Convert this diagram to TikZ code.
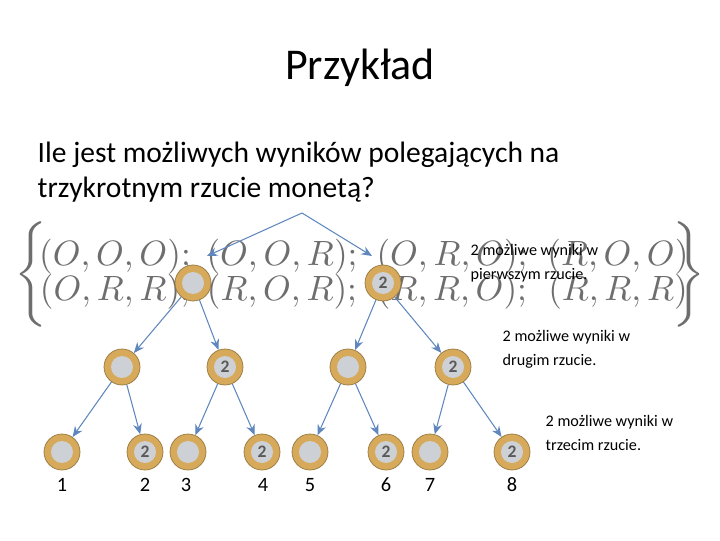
\documentclass[tikz,border=0pt]{standalone}
\usepackage{fontspec}
\setmainfont{Carlito}
\usetikzlibrary{arrows.meta}
\definecolor{coingold}{RGB}{214,170,90}
\definecolor{coinsilver}{RGB}{205,208,212}
\definecolor{arrowblue}{RGB}{95,135,190}
\definecolor{setgray}{RGB}{110,110,110}
\tikzset{
 coin/.style={circle,minimum size=0.36cm,inner sep=0pt,fill=coingold,draw=coingold!70!black,line width=0.2pt,
  path picture={\fill[coinsilver] (path picture bounding box.center) circle (0.11cm);}},
 coinO/.style={coin},
 coinR/.style={coin,font=\fontsize{5}{5}\selectfont\bfseries,text=gray!70!black},
 branch/.style={arrowblue,line width=0.3pt,-{Stealth[length=3pt,width=2.5pt]}},
 note/.style={anchor=north west,align=left,font=\fontsize{4.6}{6.8}\selectfont,inner sep=0pt},
 leaf/.style={font=\fontsize{5.8}{6}\selectfont},
 entry/.style={text=setgray,font=\fontsize{10}{10}\selectfont}
}
\begin{document}
\begin{tikzpicture}
 \useasboundingbox (0,0) rectangle (7.2,5.4);
 % title and question
 \node[font=\fontsize{12.5}{14}\selectfont] (title) at (3.6,4.72) {Przykład};
 \node[anchor=west,align=left,inner sep=0pt,font=\fontsize{8.4}{10}\selectfont] (question) at (0.37,3.68)
  {Ile jest możliwych wyników polegających na\\trzykrotnym rzucie monetą?};
 % set of outcomes
 \node[entry] (s1) at (1.15,2.83) {$(O,O,O);$};
 \node[entry] (s2) at (2.82,2.83) {$(O,O,R);$};
 \node[entry] (s3) at (4.52,2.83) {$(O,R,O);$};
 \node[entry] (s4) at (6.18,2.83) {$(R,O,O)$};
 \node[entry] (s5) at (1.15,2.48) {$(O,R,R);$};
 \node[entry] (s6) at (2.82,2.48) {$(R,O,R);$};
 \node[entry] (s7) at (4.52,2.48) {$(R,R,O);$};
 \node[entry] (s8) at (6.18,2.48) {$(R,R,R)$};
 \node[entry,scale=1.25] (lb) at (0.34,2.655) {$\left\{\vphantom{\begin{array}{c}O\\O\end{array}}\right.$};
 \node[entry,scale=1.25] (rb) at (6.86,2.655) {$\left.\vphantom{\begin{array}{c}O\\O\end{array}}\right\}$};
 % tree
 \coordinate (root) at (3.02,3.27);
 \node[coinO] (a) at (1.93,2.57) {};
 \node[coinR] (b) at (3.83,2.57) {2};
 \node[coinO] (aa) at (1.22,1.73) {};
 \node[coinR] (ab) at (2.25,1.73) {2};
 \node[coinO] (ba) at (3.48,1.73) {};
 \node[coinR] (bb) at (4.53,1.73) {2};
 \node[coinO] (c1) at (0.62,0.88) {};
 \node[coinR] (c2) at (1.45,0.88) {2};
 \node[coinO] (c3) at (1.88,0.88) {};
 \node[coinR] (c4) at (2.62,0.88) {2};
 \node[coinO] (c5) at (3.10,0.88) {};
 \node[coinR] (c6) at (3.86,0.88) {2};
 \node[coinO] (c7) at (4.30,0.88) {};
 \node[coinR] (c8) at (5.12,0.88) {2};
 \draw[branch] (root) -- (2.07,2.84);
 \draw[branch] (root) -- (3.72,2.84);
 \draw[branch] (a) -- (aa);
 \draw[branch] (a) -- (ab);
 \draw[branch] (b) -- (ba);
 \draw[branch] (b) -- (bb);
 \draw[branch] (aa) -- (c1);
 \draw[branch] (aa) -- (c2);
 \draw[branch] (ab) -- (c3);
 \draw[branch] (ab) -- (c4);
 \draw[branch] (ba) -- (c5);
 \draw[branch] (ba) -- (c6);
 \draw[branch] (bb) -- (c7);
 \draw[branch] (bb) -- (c8);
 % leaf numbers
 \foreach \i/\x in {1/0.62,2/1.45,3/1.86,4/2.63,5/3.10,6/3.86,7/4.30,8/5.12}
  \node[leaf] (n\i) at (\x,0.55) {\i};
 % notes
 \node[note] (note1) at (4.70,2.96) {2 możliwe wyniki w\\pierwszym rzucie.};
 \node[note] (note2) at (5.02,2.10) {2 możliwe wyniki w\\drugim rzucie.};
 \node[note] (note3) at (5.45,1.25) {2 możliwe wyniki w\\trzecim rzucie.};
\end{tikzpicture}
\end{document}
